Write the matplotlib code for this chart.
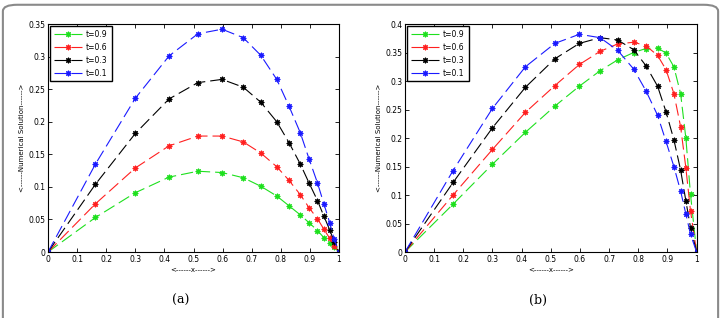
import matplotlib
matplotlib.use("Agg")
import matplotlib.pyplot as plt
from matplotlib.patches import FancyBboxPatch

# Grid points
x_a = [0, 0.163, 0.3, 0.416, 0.515, 0.598, 0.671, 0.731, 0.786, 0.828, 0.867,
       0.897, 0.926, 0.948, 0.968, 0.983, 1.0]
x_b = [0, 0.165, 0.3, 0.413, 0.514, 0.598, 0.669, 0.729, 0.784, 0.826, 0.866,
       0.895, 0.922, 0.945, 0.963, 0.979, 1.0]

labels = ["t=0.9", "t=0.6", "t=0.3", "t=0.1"]
colors = ["#1ee01e", "#ff2020", "#000000", "#1a1aff"]

# Panel (a)
a_t09 = [0, 0.053, 0.091, 0.115, 0.124, 0.122, 0.114, 0.101, 0.086, 0.071, 0.057,
         0.045, 0.033, 0.022, 0.014, 0.007, 0]
a_t06 = [0, 0.074, 0.129, 0.163, 0.178, 0.178, 0.169, 0.152, 0.131, 0.110, 0.088,
         0.068, 0.051, 0.035, 0.021, 0.010, 0]
a_t03 = [0, 0.104, 0.182, 0.235, 0.260, 0.265, 0.253, 0.230, 0.200, 0.168, 0.135,
         0.106, 0.079, 0.055, 0.034, 0.016, 0]
a_t01 = [0, 0.135, 0.236, 0.301, 0.335, 0.342, 0.329, 0.302, 0.265, 0.224, 0.183,
         0.143, 0.106, 0.074, 0.045, 0.020, 0]

# Panel (b)
b_t09 = [0, 0.084, 0.154, 0.210, 0.256, 0.291, 0.318, 0.337, 0.350, 0.357, 0.358,
         0.349, 0.325, 0.278, 0.200, 0.101, 0]
b_t06 = [0, 0.100, 0.180, 0.245, 0.292, 0.329, 0.352, 0.365, 0.368, 0.362, 0.345,
         0.320, 0.278, 0.220, 0.148, 0.072, 0]
b_t03 = [0, 0.122, 0.218, 0.289, 0.339, 0.366, 0.376, 0.372, 0.355, 0.327, 0.291,
         0.246, 0.197, 0.144, 0.090, 0.043, 0]
b_t01 = [0, 0.143, 0.252, 0.325, 0.366, 0.382, 0.376, 0.354, 0.321, 0.283, 0.240,
         0.194, 0.150, 0.107, 0.067, 0.031, 0]

plt.rcParams.update({
    "font.family": "DejaVu Sans",
    "font.size": 6,
    "xtick.direction": "in",
    "ytick.direction": "in",
    "xtick.top": True,
    "ytick.right": True,
    "xtick.major.size": 3,
    "ytick.major.size": 3,
    "xtick.major.width": 0.6,
    "ytick.major.width": 0.6,
    "axes.linewidth": 0.8,
})


def draw_panel(ax, x, series, ymax, yticks):
    for y, c, lab in zip(series, colors, labels):
        ax.plot(x, y, color=c, linewidth=0.8, dashes=(11, 4.5),
                marker=(8, 2, 0), markersize=4, markeredgewidth=0.8,
                markeredgecolor=c, label=lab)
    ax.set_xlim(0, 1)
    ax.set_ylim(0, ymax)
    ax.set_xticks([i / 10 for i in range(11)])
    ax.set_xticklabels(["0"] + [f"{i / 10:g}" for i in range(1, 10)] + ["1"])
    ax.set_yticks(yticks)
    ax.set_yticklabels(["0"] + [f"{v:g}" for v in yticks[1:]])
    ax.tick_params(labelsize=5.5, pad=2)
    ax.set_xlabel("<------x------>", fontsize=5, labelpad=2)
    ax.set_ylabel("<------Numerical Solution------>", fontsize=5, labelpad=2)
    leg = ax.legend(loc="upper left", fontsize=5.5, handlelength=3.6,
                    handletextpad=0.6, borderpad=0.5, labelspacing=0.5,
                    fancybox=False, framealpha=1, borderaxespad=0.3)
    leg.get_frame().set_edgecolor("black")
    leg.get_frame().set_linewidth(1.0)


fig = plt.figure(figsize=(7.21, 3.18), dpi=100)

frame = FancyBboxPatch((0.004, -0.08), 0.992, 1.065,
                       boxstyle="round,pad=0,rounding_size=0.02",
                       transform=fig.transFigure, facecolor="none",
                       edgecolor="#8a8a8a", linewidth=1.5, clip_on=False)
fig.patches.append(frame)

ax1 = fig.add_axes([0.0666, 0.2075, 0.4036, 0.717])
ax2 = fig.add_axes([0.5617, 0.2075, 0.4045, 0.717])

draw_panel(ax1, x_a, [a_t09, a_t06, a_t03, a_t01], 0.35,
           [0, 0.05, 0.1, 0.15, 0.2, 0.25, 0.3, 0.35])
draw_panel(ax2, x_b, [b_t09, b_t06, b_t03, b_t01], 0.4,
           [0, 0.05, 0.1, 0.15, 0.2, 0.25, 0.3, 0.35, 0.4])

fig.text(0.25, 0.055, "(a)", ha="center", va="center", fontsize=9,
         family="DejaVu Serif")
fig.text(0.746, 0.055, "(b)", ha="center", va="center", fontsize=9,
         family="DejaVu Serif")

fig.savefig("out.png", dpi=100)
